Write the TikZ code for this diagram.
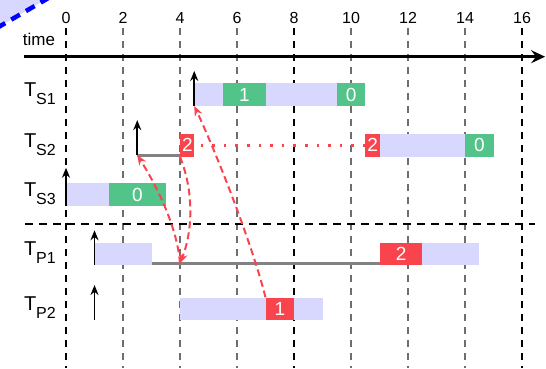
\documentclass[tikz,border=0pt]{standalone}
\usepackage{fontspec}
\setmainfont{Liberation Sans}
\usetikzlibrary{arrows.meta}
\definecolor{lav}{RGB}{216,216,255}
\definecolor{grn}{RGB}{82,196,138}
\definecolor{rd}{RGB}{250,68,77}
\definecolor{gridgray}{RGB}{110,110,110}
\definecolor{waitgray}{RGB}{130,130,130}
\definecolor{cornerblue}{RGB}{0,0,255}
\newcommand\tlab[1]{{\fontsize{20}{20}\selectfont T}\raisebox{-8pt}{\fontsize{16}{16}\selectfont #1}}
\begin{document}
\begin{tikzpicture}[x=28.5pt,y=-1pt,
  bar/.style={fill=lav, minimum height=22.5pt, inner sep=0pt, anchor=west, minimum width=#1*28.5pt},
  gbox/.style={bar=#1, fill=grn, text=white, font=\fontsize{19}{19}\selectfont},
  rbox/.style={bar=#1, fill=rd, text=white, font=\fontsize{19}{19}\selectfont},
  rowlabel/.style={anchor=east, inner sep=0pt},
  tick/.style={font=\fontsize{16}{16}\selectfont, inner sep=0pt},
  gridline/.style={line width=1.5pt, dash pattern=on 7pt off 6pt},
  release/.style={line width=1.8pt, -{Stealth[length=10pt,width=8pt]}},
  waiting/.style={line width=3pt, waitgray},
  msg/.style={rd, line width=2pt, dash pattern=on 7pt off 4pt, -{Stealth[length=10pt,width=8pt]}},
  sep/.style={line width=1.5pt, dash pattern=on 8pt off 6pt},
]
\useasboundingbox (-2.31579,0) rectangle (16.84211,368);

% corner decoration
\fill[lav] (-2.3965,27.5) -- (-0.586,-2.5) -- (-2.3965,-2.5) -- cycle;
\draw[cornerblue, line width=4.5pt, dash pattern=on 10pt off 7pt] (-0.586,-2.5) -- (-2.3965,27.5);

% grid and ticks
\foreach \t in {0,2,...,16}{
  \node[tick] (tick\t) at (\t,17.5) {\t};
}
\foreach \t/\c in {0/black,2/gridgray,4/gridgray,6/gridgray,8/black,10/gridgray,12/gridgray,14/gridgray,16/black}{
  \draw[gridline,\c] (\t,28) -- (\t,368);
}

% time axis
\node[font=\fontsize{17}{17}\selectfont, anchor=base, inner sep=0pt] (timelabel) at (-0.947,45) {time};
\coordinate (axstart) at (-1.4737,56.7);
\coordinate (axend) at (16.81,56.7);
\draw[line width=2.5pt, -{Stealth[length=14pt,width=13pt,inset=5pt]}] (axstart) -- (axend);

% separator
\coordinate (sepL) at (-1.4386,224);
\coordinate (sepR) at (16.456,224);
\draw[sep] (sepL) -- (sepR);

% row labels
\node[rowlabel] (lS1) at (-0.351,93.5) {\tlab{S1}};
\node[rowlabel] (lS2) at (-0.351,144.3) {\tlab{S2}};
\node[rowlabel] (lS3) at (-0.351,193.5) {\tlab{S3}};
\node[rowlabel] (lP1) at (-0.351,253) {\tlab{P1}};
\node[rowlabel] (lP2) at (-0.351,308) {\tlab{P2}};

% waiting lines
\coordinate (s2rel) at (2.5,155.1);
\coordinate (p1w) at (4,263.3);
\coordinate (s3rel) at (0,205.75);
\coordinate (p2rel) at (1,320);

% bars S1
\node[bar=6] (s1bar) at (4.5,94.5) {};
\node[gbox=1.5] (s1g1) at (5.5,94.5) {1};
\node[gbox=1] (s1g0) at (9.5,94.5) {0};
% bars S2
\node[rbox=0.5] (s2r1) at (4,145.3) {2};
\node[rbox=0.5] (s2r2) at (10.5,145.3) {2};
\node[bar=3] (s2bar) at (11,145.3) {};
\node[gbox=1] (s2g0) at (14,145.3) {0};
% bars S3
\node[bar=1.5] (s3bar) at (0,194.5) {};
\node[gbox=2] (s3g0) at (1.5,194.5) {0};
% bars P1
\node[bar=2] (p1bar) at (1,253.8) {};
\node[rbox=1.5] (p1r) at (11,253.8) {2};
\node[bar=2] (p1bar2) at (12.5,253.8) {};
% bars P2
\node[bar=5] (p2bar) at (4,308.8) {};
\node[rbox=1] (p2r) at (7,308.8) {1};

\draw[waiting] (s2rel) -- (s2r1.west |- s2rel);
\draw[waiting] (p1bar.east |- p1w) -- (p1r.west |- p1w);

% dotted
\draw[rd, line width=2.5pt, dash pattern=on 2.6pt off 9pt, shorten <=6pt] (s2r1.east) -- (s2r2.west);

% releases
\draw[release] (s1bar.south west) -- ++(0,-35);
\draw[release] (s2rel) -- ++(0,-35);
\draw[release] (s3rel) -- ++(0,-38);
\draw[release] (p1bar.south west) -- ++(0,-35);
\draw[release] (p2rel) -- ++(0,-35);

% messages
\draw[msg] (p1w) .. controls +(-0.1,-39) and +(0.56,25) .. (s2rel);
\draw[msg] (s2r1.south west) .. controls +(0.47,33) and +(0.47,-34) .. (p1w);
\draw[msg] (p2r.north west) .. controls +(-0.456,-52) and +(0.807,49) .. (s1bar.south west);
\end{tikzpicture}
\end{document}
